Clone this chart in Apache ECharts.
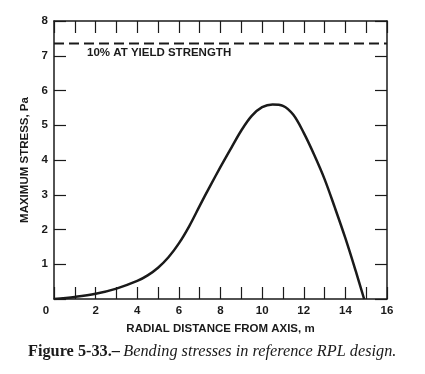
<!DOCTYPE html>
<html>
<head>
<meta charset="utf-8">
<script src="https://cdn.jsdelivr.net/npm/echarts@6/dist/echarts.min.js"></script>
<style>html,body{margin:0;padding:0;background:#fff;}#c{width:425px;height:374px;}</style>
</head>
<body>
<div id="c"></div>
<script>
const radialDistance = [0, 1, 2, 3, 4, 4.5, 5, 5.5, 6, 6.5, 7, 7.5, 8, 8.5, 9, 9.5, 10, 10.5, 11, 11.5, 12, 12.5, 13, 13.5, 14, 14.5, 14.9];
const maxStress = [0, 0.06, 0.15, 0.3, 0.52, 0.68, 0.9, 1.2, 1.6, 2.1, 2.68, 3.25, 3.8, 4.33, 4.85, 5.27, 5.52, 5.6, 5.56, 5.3, 4.78, 4.15, 3.45, 2.62, 1.75, 0.8, 0];
const yieldLine = [[0, 7.35], [16, 7.35]];
const xTicks = [0, 2, 4, 6, 8, 10, 12, 14, 16];
const yTicks = [1, 2, 3, 4, 5, 6, 7, 8];

const ink = '#1a1a1a';
const font = '"Liberation Sans", Arial, sans-serif';
const chart = echarts.init(document.getElementById('c'));
const axisBase = {
  type: 'value',
  axisLine: { show: true, onZero: false, lineStyle: { color: ink, width: 1.5 } },
  axisTick: { show: true, inside: true, length: 12, lineStyle: { color: ink, width: 1.2 } },
  splitLine: { show: false }
};
const labelStyle = { fontFamily: font, fontWeight: 'bold', fontSize: 11.5, color: ink };
chart.setOption({
  backgroundColor: '#fff',
  animation: false,
  grid: { left: 54, right: 38, top: 21, bottom: 75 },
  xAxis: [
    Object.assign({}, axisBase, {
      min: 0, max: 16, interval: 1, position: 'bottom',
      name: 'RADIAL DISTANCE FROM AXIS, m', nameLocation: 'middle', nameGap: 24,
      nameTextStyle: Object.assign({}, labelStyle),
      axisLabel: Object.assign({ margin: 6,
        formatter: v => v === 0 ? '{z|0}' : (xTicks.indexOf(v) >= 0 ? String(v) : ''),
        rich: { z: { fontFamily: font, fontWeight: 'bold', fontSize: 11.5, color: ink, padding: [0, 16, 0, 0] } }
      }, labelStyle)
    }),
    Object.assign({}, axisBase, {
      min: 0, max: 16, interval: 1, position: 'top', axisLabel: { show: false }
    })
  ],
  yAxis: [
    Object.assign({}, axisBase, {
      min: 0, max: 8, interval: 1, position: 'left',
      name: 'MAXIMUM STRESS, Pa', nameLocation: 'middle', nameGap: 22,
      nameTextStyle: Object.assign({}, labelStyle),
      axisLabel: Object.assign({ margin: 6,
        formatter: v => yTicks.indexOf(v) >= 0 ? String(v) : '' }, labelStyle)
    }),
    Object.assign({}, axisBase, {
      min: 0, max: 8, interval: 1, position: 'right', axisLabel: { show: false }
    })
  ],
  series: [
    {
      type: 'line', xAxisIndex: 0, yAxisIndex: 0, showSymbol: false, smooth: 0.35,
      data: radialDistance.map((x, i) => [x, maxStress[i]]),
      lineStyle: { color: ink, width: 2.5 }
    },
    {
      type: 'line', xAxisIndex: 0, yAxisIndex: 0, showSymbol: false,
      data: yieldLine,
      lineStyle: { color: ink, width: 2, type: [10, 5] }
    }
  ],
  graphic: [
    {
      type: 'text', left: 87, top: 47,
      style: { text: '10% AT YIELD STRENGTH', font: 'bold 11.5px ' + font, fill: ink }
    },
    {
      type: 'text', left: 28, top: 344,
      style: {
        text: '{a|Figure 5-33.–} {b|Bending stresses in reference RPL design.}',
        rich: {
          a: { fontFamily: '"Liberation Serif", "Times New Roman", serif', fontWeight: 'bold', fontSize: 16.3, fill: ink },
          b: { fontFamily: '"Liberation Serif", "Times New Roman", serif', fontStyle: 'italic', fontSize: 16.3, fill: ink }
        }
      }
    }
  ]
});
</script>
</body>
</html>
